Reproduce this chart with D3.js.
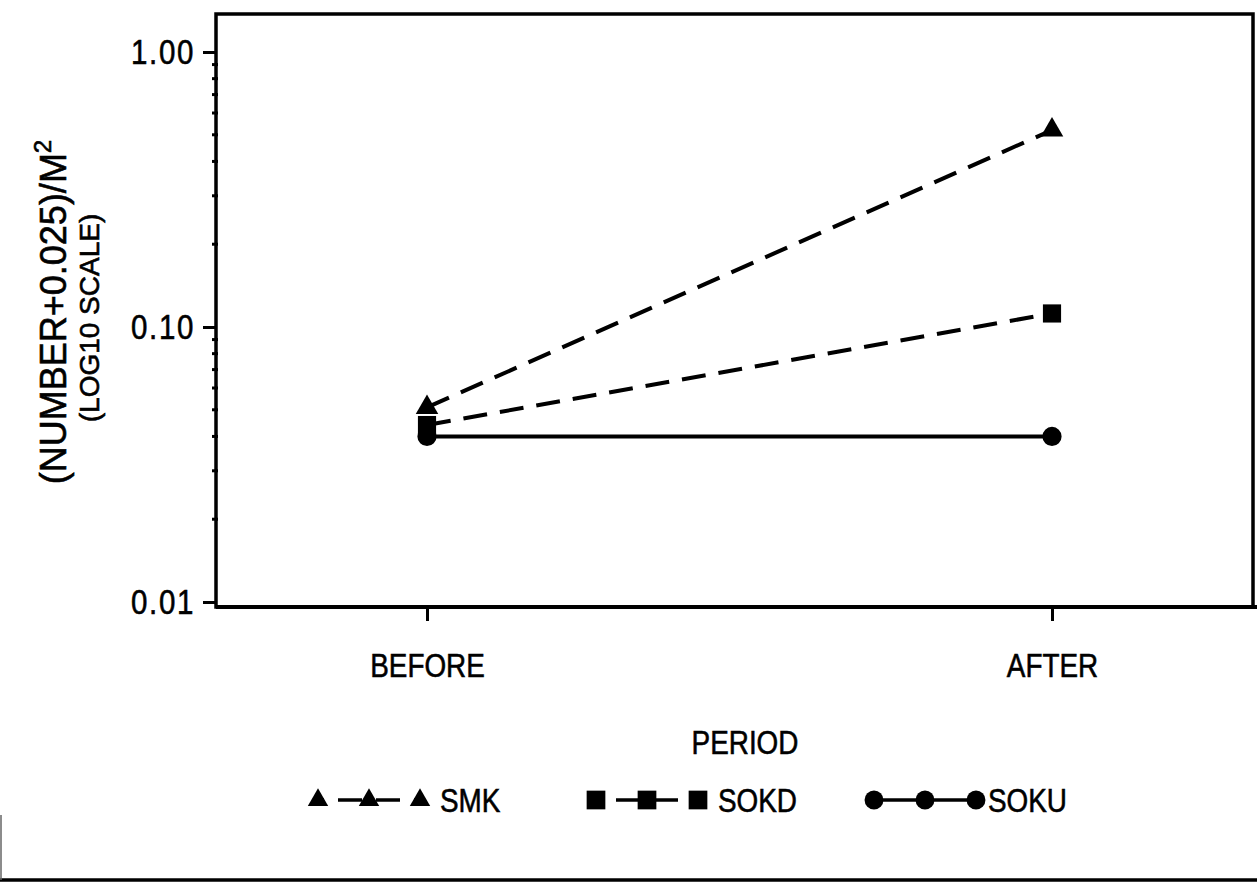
<!DOCTYPE html>
<html>
<head>
<meta charset="utf-8">
<script src="https://cdn.jsdelivr.net/npm/d3@7"></script>
<style>
  html, body { margin: 0; padding: 0; background: #fff; }
  svg { display: block; }
  text { fill: #000; stroke: #000; stroke-width: 0.6px; }
</style>
</head>
<body>
<svg id="chart" width="1257" height="888"></svg>
<script>
// Densities per square metre, before and after, on a log10 axis
const periods = ["BEFORE", "AFTER"];
const smkValues = [0.051, 0.52];
const sokdValues = [0.044, 0.112];
const sokuValues = [0.040, 0.040];
const seriesNames = ["SMK", "SOKD", "SOKU"];
const yTickValues = [0.01, 0.10, 1.00];
const yTickLabels = ["0.01", "0.10", "1.00"];
const yTitleMain = "(NUMBER+0.025)/M";
const yTitleSup = "2";
const yTitleSub = "(LOG10 SCALE)";
const xTitle = "PERIOD";

// Pick a condensed face when one is installed, otherwise squeeze a regular one
function fontAvailable(name) {
  const ctx = document.createElement("canvas").getContext("2d");
  const probe = "BEFORE SMK 0.10 PERIOD";
  ctx.font = "40px monospace";
  const a = ctx.measureText(probe).width;
  ctx.font = `40px "${name}", monospace`;
  const b = ctx.measureText(probe).width;
  return a !== b;
}
const hasNarrow = fontAvailable("Liberation Sans Narrow");
const labelFont = hasNarrow ? '"Liberation Sans Narrow", sans-serif' : '"Liberation Sans", sans-serif';
const squeeze = hasNarrow ? 1 : 0.82;

function condense(sel) {
  if (squeeze === 1) return;
  sel.each(function () {
    const t = d3.select(this);
    const x = +t.attr("x") || 0, y = +t.attr("y") || 0;
    t.attr("x", 0).attr("y", 0)
     .attr("transform", `translate(${x},${y}) scale(${squeeze},1)`);
  });
}

const svg = d3.select("#chart");
const frame = { left: 216, right: 1253, top: 14, bottom: 607 };

const x = d3.scalePoint().domain(periods).range([427, 1052]);
const y = d3.scaleLog().domain([0.01, 1]).range([602, 52]);

const series = [
  { name: seriesNames[0], values: smkValues, symbol: d3.symbolTriangle, size: 220, legendSize: 180, dash: "24,13" },
  { name: seriesNames[1], values: sokdValues, symbol: d3.symbolSquare, size: 330, legendSize: 350, dash: "24,13" },
  { name: seriesNames[2], values: sokuValues, symbol: d3.symbolCircle, size: 290, legendSize: 280, dash: null }
];

// Plot frame
svg.append("rect")
  .attr("x", frame.left).attr("y", frame.top)
  .attr("width", frame.right - frame.left).attr("height", frame.bottom - frame.top)
  .attr("fill", "none").attr("stroke", "#000").attr("stroke-width", 3.5);
// bottom axis line runs on to the page edge
svg.append("line")
  .attr("x1", frame.left).attr("x2", 1257)
  .attr("y1", frame.bottom).attr("y2", frame.bottom)
  .attr("stroke", "#000").attr("stroke-width", 4);

// Left axis: labelled decades
const yAxis = svg.append("g")
  .attr("transform", `translate(${frame.left},0)`)
  .call(d3.axisLeft(y)
    .tickValues(yTickValues)
    .tickFormat((d, i) => yTickLabels[i])
    .tickSize(13)
    .tickPadding(8));
yAxis.select(".domain").remove();
yAxis.selectAll(".tick line").attr("stroke", "#000").attr("stroke-width", 3);
yAxis.selectAll(".tick text")
  .style("font-family", labelFont)
  .style("font-size", "36px")
  .style("letter-spacing", "2px");
condense(yAxis.selectAll(".tick text"));

// Minor log ticks between decades
const minor = [];
[0.01, 0.1].forEach(base => { for (let k = 2; k <= 9; k++) minor.push(base * k); });
svg.append("g").selectAll("line")
  .data(minor)
  .join("line")
  .attr("x1", frame.left - 4).attr("x2", frame.left + 2)
  .attr("y1", d => y(d)).attr("y2", d => y(d))
  .attr("stroke", "#000").attr("stroke-width", 3);

// Bottom axis: periods
const xAxis = svg.append("g")
  .attr("transform", `translate(0,${frame.bottom})`)
  .call(d3.axisBottom(x).tickSize(14).tickPadding(32));
xAxis.select(".domain").remove();
xAxis.selectAll(".tick line").attr("stroke", "#000").attr("stroke-width", 3);
xAxis.selectAll(".tick text")
  .style("font-family", labelFont)
  .style("font-size", "34px");
condense(xAxis.selectAll(".tick text"));

// Axis titles
const t1 = svg.append("text")
  .attr("transform", "translate(66,312) rotate(-90)")
  .attr("text-anchor", "middle")
  .style("font-family", '"Liberation Sans", Arial, sans-serif')
  .style("font-size", "36px")
  .text(yTitleMain);
t1.append("tspan").attr("dy", -15).style("font-size", "24px").text(yTitleSup);

svg.append("text")
  .attr("transform", "translate(99,318) rotate(-90)")
  .attr("text-anchor", "middle")
  .style("font-family", '"Liberation Sans", Arial, sans-serif')
  .style("font-size", "28px")
  .text(yTitleSub);

const px = svg.append("text")
  .attr("x", 745).attr("y", 754)
  .attr("text-anchor", "middle")
  .style("font-family", labelFont)
  .style("font-size", "34px")
  .text(xTitle);
condense(px);

// Series lines and markers
const line = d3.line().x(d => x(d.period)).y(d => y(d.value));
const plot = svg.append("g");
series.forEach(s => {
  const pts = periods.map((p, i) => ({ period: p, value: s.values[i] }));
  plot.append("path")
    .datum(pts)
    .attr("d", line)
    .attr("fill", "none")
    .attr("stroke", "#000")
    .attr("stroke-width", 4)
    .attr("stroke-dasharray", s.dash);
});
series.forEach(s => {
  const pts = periods.map((p, i) => ({ period: p, value: s.values[i] }));
  plot.append("g").selectAll("path")
    .data(pts)
    .join("path")
    .attr("transform", d => `translate(${x(d.period)},${y(d.value)})`)
    .attr("d", d3.symbol(s.symbol, s.size))
    .attr("fill", "#000");
});

// Legend
const legendY = 800;
const legendStart = 318, legendStep = 278, markerGap = 51;
series.forEach((s, i) => {
  const gx = legendStart + i * legendStep;
  const g = svg.append("g").attr("transform", `translate(${gx},${legendY})`);
  g.append("line")
    .attr("x1", 0).attr("x2", markerGap * 2)
    .attr("y1", 0).attr("y2", 0)
    .attr("stroke", "#000").attr("stroke-width", 3.5)
    .attr("stroke-dasharray", s.dash ? "24,14" : null)
    .attr("stroke-dashoffset", s.dash ? -20 : null);
  g.selectAll("path")
    .data([0, 1, 2])
    .join("path")
    .attr("transform", k => `translate(${k * markerGap},0)`)
    .attr("d", d3.symbol(s.symbol, s.legendSize))
    .attr("fill", "#000");
  const lt = g.append("text")
    .attr("x", markerGap * 2 + (i === 2 ? 12 : 20)).attr("y", 12)
    .style("font-family", labelFont)
    .style("font-size", "34px")
    .text(s.name);
  condense(lt);
});

// Page edge rules
svg.append("line")
  .attr("x1", 0).attr("x2", 1257).attr("y1", 880).attr("y2", 880)
  .attr("stroke", "#000").attr("stroke-width", 3.5);
svg.append("line")
  .attr("x1", 1).attr("x2", 1).attr("y1", 815).attr("y2", 880)
  .attr("stroke", "#666").attr("stroke-width", 1.5);
</script>
</body>
</html>
